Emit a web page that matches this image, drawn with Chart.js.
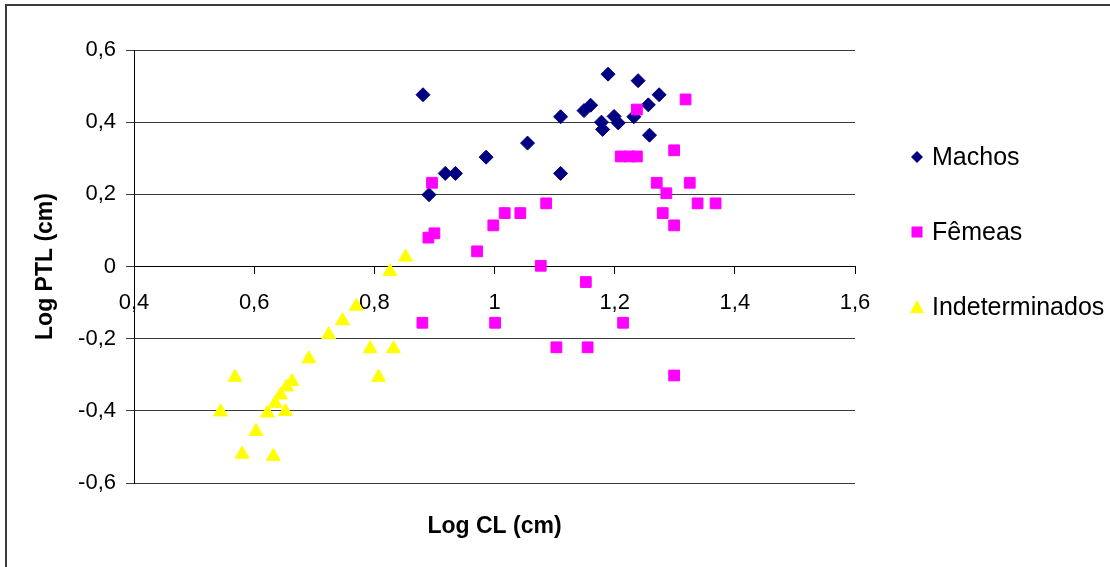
<!DOCTYPE html>
<html>
<head>
<meta charset="utf-8">
<script src="https://cdn.jsdelivr.net/npm/chart.js@4.4.0/dist/chart.umd.min.js"></script>
<style>
  html, body { margin: 0; padding: 0; background: #fff; overflow: hidden; }
  #frame { position: absolute; left: 5px; top: 4px; width: 1200px; height: 700px; border: 2px solid #3c3c3c; }
  #chart { position: absolute; left: 0; top: 0; }
</style>
</head>
<body>
<div id="frame"></div>
<canvas id="chart" width="1110" height="567"></canvas>
<script>
const seriesNames = ['Machos', 'Fêmeas', 'Indeterminados'];

const machosX = [0.881, 0.891, 0.918, 0.935, 0.986, 1.055, 1.110, 1.110, 1.149, 1.160,
                 1.189, 1.178, 1.180, 1.199, 1.206, 1.232, 1.239, 1.256, 1.274, 1.258];
const machosY = [0.476, 0.199, 0.258, 0.258, 0.303, 0.342, 0.415, 0.258, 0.432, 0.447,
                 0.533, 0.400, 0.380, 0.416, 0.398, 0.415, 0.515, 0.448, 0.476, 0.364];

const femeasX = [0.880, 0.890, 0.896, 0.900, 0.971, 0.998, 1.001, 1.017, 1.043, 1.077,
                 1.086, 1.103, 1.152, 1.155, 1.210, 1.214, 1.225, 1.237, 1.237, 1.270,
                 1.280, 1.286, 1.299, 1.299, 1.299, 1.318, 1.325, 1.338, 1.368];
const femeasY = [-0.156, 0.080, 0.232, 0.092, 0.042, 0.114, -0.156, 0.148, 0.148, 0.002,
                 0.175, -0.224, -0.043, -0.224, 0.305, -0.156, 0.305, 0.305, 0.435, 0.232,
                 0.148, 0.203, 0.322, 0.114, -0.302, 0.463, 0.232, 0.175, 0.175];

const indetX = [0.544, 0.568, 0.580, 0.603, 0.622, 0.632, 0.635, 0.644, 0.652, 0.654,
                0.663, 0.691, 0.724, 0.747, 0.770, 0.793, 0.807, 0.826, 0.832, 0.852];
const indetY = [-0.403, -0.307, -0.520, -0.457, -0.406, -0.526, -0.379, -0.356, -0.402, -0.334,
                -0.319, -0.256, -0.189, -0.150, -0.110, -0.228, -0.307, -0.014, -0.228, 0.026];

const xTicks = [0.4, 0.6, 0.8, 1, 1.2, 1.4, 1.6];
const yTicks = [-0.6, -0.4, -0.2, 0, 0.2, 0.4, 0.6];
const xTitle = 'Log CL (cm)';
const yTitle = 'Log PTL (cm)';

const FONT = '"Liberation Sans", Arial, sans-serif';
const colors = ['#000080', '#ff00ff', '#ffff00'];

const zip = (xs, ys) => xs.map((x, i) => ({ x, y: ys[i] }));
const fmt = v => String(Math.round(v * 10) / 10).replace('.', ',');

// legend + axis titles drawn by hand to match the spreadsheet layout
const decor = {
    id: 'decor',
    afterDraw(chart) {
        const { ctx, chartArea } = chart;
        ctx.save();
        ctx.fillStyle = '#000';
        ctx.font = 'bold 23px ' + FONT;
        ctx.textAlign = 'center';
        ctx.textBaseline = 'middle';
        ctx.fillText(xTitle, (chartArea.left + chartArea.right) / 2, chartArea.bottom + 44);
        ctx.save();
        ctx.translate(46, (chartArea.top + chartArea.bottom) / 2);
        ctx.rotate(-Math.PI / 2);
        ctx.fillText(yTitle, 0, 0);
        ctx.restore();

        ctx.font = '25px ' + FONT;
        ctx.textAlign = 'left';
        chart.data.datasets.forEach((ds, i) => {
            const y = chartArea.top + 107 + i * 75;
            const x = 917;
            ctx.fillStyle = ds.backgroundColor;
            ctx.beginPath();
            if (ds.pointStyle === 'rectRot') {
                ctx.moveTo(x, y - 6); ctx.lineTo(x + 6, y); ctx.lineTo(x, y + 6); ctx.lineTo(x - 6, y);
            } else if (ds.pointStyle === 'rect') {
                ctx.rect(x - 5.5, y - 5.5, 11, 11);
            } else {
                ctx.moveTo(x, y - 7); ctx.lineTo(x + 7, y + 6); ctx.lineTo(x - 7, y + 6);
            }
            ctx.closePath();
            ctx.fill();
            ctx.fillStyle = '#000';
            ctx.fillText(ds.label, 932, y + 1);
        });
        ctx.restore();
    }
};

new Chart(document.getElementById('chart'), {
    type: 'scatter',
    data: {
        datasets: [
            { label: seriesNames[0], data: zip(machosX, machosY), pointStyle: 'rectRot', pointRadius: 7,
              backgroundColor: colors[0], borderColor: colors[0], borderWidth: 1, order: 1 },
            { label: seriesNames[1], data: zip(femeasX, femeasY), pointStyle: 'rect', pointRadius: 7.6,
              backgroundColor: colors[1], borderColor: colors[1], borderWidth: 1, order: 0 },
            { label: seriesNames[2], data: zip(indetX, indetY), pointStyle: 'triangle', pointRadius: 8,
              backgroundColor: colors[2], borderColor: colors[2], borderWidth: 1, order: 2 },
        ]
    },
    options: {
        responsive: false,
        animation: false,
        layout: { padding: { left: 0, top: 50, right: 255, bottom: 84 } },
        plugins: { legend: { display: false }, tooltip: { enabled: false } },
        scales: {
            x: {
                type: 'linear',
                position: { y: 0 },
                min: 0.4, max: 1.6,
                afterBuildTicks: s => { s.ticks = xTicks.map(v => ({ value: v })); },
                grid: { drawOnChartArea: false, drawTicks: true, tickLength: 7, color: '#000' },
                border: { color: '#000', width: 1 },
                ticks: { callback: fmt, color: '#000', font: { size: 22, family: FONT }, padding: 16, maxRotation: 0 }
            },
            y: {
                type: 'linear',
                min: -0.6, max: 0.6,
                afterBuildTicks: s => { s.ticks = yTicks.map(v => ({ value: v })); },
                afterFit: s => { s.width = 134; },
                grid: { color: '#3a3a3a', lineWidth: 1, tickLength: 8 },
                border: { color: '#000', width: 1 },
                ticks: { callback: fmt, color: '#000', font: { size: 22, family: FONT }, padding: 10 }
            }
        }
    },
    plugins: [decor]
});
</script>
</body>
</html>
